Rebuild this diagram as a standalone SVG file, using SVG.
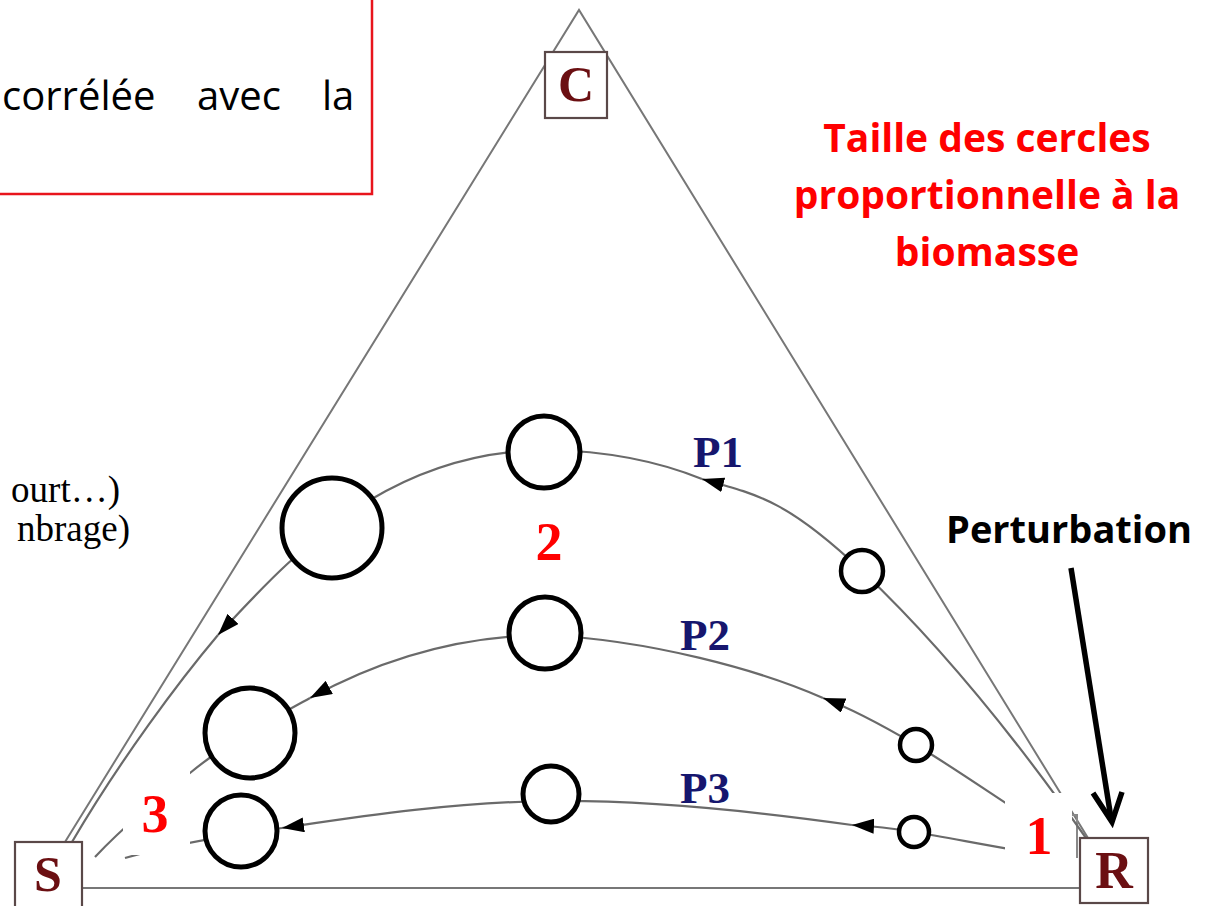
<svg xmlns="http://www.w3.org/2000/svg" width="1213" height="906" viewBox="0 0 1213 906">
<style>
.tri{stroke:#777;stroke-width:2;fill:none}
.cv{stroke:#6a6a6a;stroke-width:2.2;fill:none}
.ar{marker-end:url(#arr)}
.circ{fill:#fff;stroke:#000;stroke-width:5}
.sm{stroke-width:4.5}
.box{fill:#fff;stroke:#5a4848;stroke-width:2.2}
.vx{font-family:"Liberation Serif",serif;font-weight:bold;fill:#6b0f12;text-anchor:middle}
.pl{font-family:"Liberation Serif",serif;font-weight:bold;font-size:45px;fill:#16166e}
.num{font-family:"Liberation Serif",serif;font-weight:bold;font-size:54px;fill:#ff0000;text-anchor:middle}
.cal{font-family:"Open Sans",sans-serif}
.ser{font-family:"Liberation Serif",serif;font-size:37px;fill:#000;text-anchor:end}
</style>
<defs>
<marker id="arr" viewBox="0 0 22 15" refX="22" refY="7.5" markerWidth="22" markerHeight="15" markerUnits="userSpaceOnUse" orient="auto">
<path d="M0,0 L22,7.5 L0,15 Z" fill="#000"/>
</marker>
</defs>
<rect width="1213" height="906" fill="#fff"/>

<g id="note-box">
<rect x="-5" y="-5" width="377" height="199" fill="none" stroke="#e8141c" stroke-width="2.5"/>
<text class="cal" font-size="40" y="110" fill="#000"><tspan x="2">corrélée</tspan><tspan x="197">avec</tspan><tspan x="322">la</tspan></text>
</g>

<g id="left-text">
<text class="ser" x="120" y="502">ourt…)</text>
<text class="ser" x="130" y="541">nbrage)</text>
</g>

<g id="triangle">
<path class="tri" d="M65,842 L579,10 L1088,838"/>
<path class="tri" d="M82,888 L1080,888"/>
<path d="M1066,815 H1077 V858" fill="none" stroke="#888" stroke-width="2"/>
</g>

<g id="connectors">
<path class="cv ar" d="M1086,838 C1010,730 935,640 862,571 C789,502 760,495 702,479"/>
<path class="cv ar" d="M702,479 C660,462 610,451 548,450 C480,450 420,470 370,500 C300,545 260,590 218,635"/>
<path class="cv" d="M218,635 C180,680 120,760 72,842"/>
<path class="cv ar" d="M1050,832 C1000,800 950,765 916,745 C882,725 850,708 823,698"/>
<path class="cv ar" d="M823,698 C760,670 650,640 545,635 C450,636 370,665 310,698"/>
<path class="cv" d="M310,698 C270,720 230,740 190,773 C160,797 125,825 95,857"/>
<path class="cv ar" d="M1050,856 C1000,848 950,838 914,832 C890,828 870,826 852,825"/>
<path class="cv ar" d="M852,825 C760,812 650,800 551,801 C450,802 350,818 282,828"/>
<path class="cv" d="M282,828 C230,835 170,845 125,858"/>
</g>

<g id="perturbation-arrow" stroke="#000" stroke-width="5.5" fill="none">
<path d="M1071,568 L1111,818"/>
<path d="M1093,793 L1112,822 L1122,792"/>
</g>

<g id="circles">
<circle id="p1-top" class="circ" cx="544" cy="452" r="36"/>
<circle id="p1-left" class="circ" cx="332" cy="528" r="50"/>
<circle id="p1-right" class="circ sm" cx="862" cy="571" r="21"/>
<circle id="p2-top" class="circ" cx="545" cy="633" r="36"/>
<circle id="p2-left" class="circ" cx="250" cy="733" r="45"/>
<circle id="p2-right" class="circ sm" cx="916" cy="745" r="16"/>
<circle id="p3-top" class="circ" cx="551" cy="794" r="28"/>
<circle id="p3-left" class="circ" cx="241" cy="831" r="36"/>
<circle id="p3-right" class="circ sm" cx="914" cy="832" r="15"/>
</g>

<g id="node-C"><rect class="box" x="545" y="52" width="62" height="66"/><text class="vx" x="576" y="101" font-size="50">C</text></g>
<g id="node-S"><rect class="box" x="15" y="842" width="67" height="70"/><text class="vx" x="48" y="891" font-size="50">S</text></g>
<g id="node-R"><rect class="box" x="1080" y="838" width="68" height="65"/><text class="vx" x="1114" y="888" font-size="52">R</text></g>

<g id="label-1"><rect x="1005" y="793" width="67" height="65" fill="#fff"/><text class="num" x="1039" y="854">1</text></g>
<g id="label-2"><text class="num" x="549" y="560">2</text></g>
<g id="label-3"><rect x="123" y="768" width="67" height="87" fill="#fff"/><text class="num" x="155" y="832">3</text></g>

<g id="path-labels">
<text class="pl" x="693" y="467">P1</text>
<text class="pl" x="680" y="650">P2</text>
<text class="pl" x="680" y="803">P3</text>
</g>

<g id="legend" class="cal" font-weight="bold" font-size="39" text-anchor="middle" fill="#ff0000">
<text x="987" y="152">Taille des cercles</text>
<text x="987" y="209">proportionnelle à la</text>
<text x="987" y="266">biomasse</text>
</g>
<text id="perturbation" class="cal" x="1069" y="543" font-weight="bold" font-size="38" text-anchor="middle" fill="#000">Perturbation</text>
</svg>
